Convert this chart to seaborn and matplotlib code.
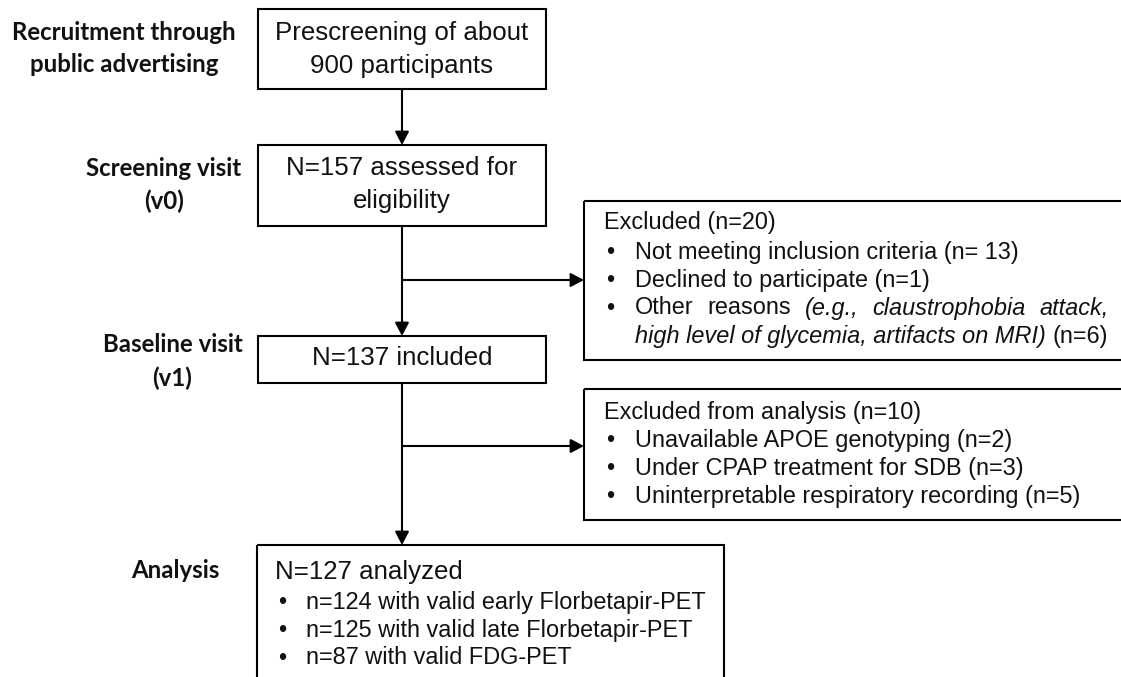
import matplotlib
matplotlib.use("Agg")
import matplotlib.pyplot as plt
from matplotlib.patches import Rectangle, FancyArrowPatch
import seaborn as sns

# ---------------- data (texts of the flow chart) ----------------
stage_labels = [["Recruitment through", "public advertising"],
                ["Screening visit", "(v0)"],
                ["Baseline visit", "(v1)"],
                ["Analysis"]]
main_boxes = [["Prescreening of about", "900 participants"],
              ["N=157 assessed for", "eligibility"],
              ["N=137 included"]]
analysis_title = "N=127 analyzed"
analysis_items = ["n=124 with valid early Florbetapir-PET",
                  "n=125 with valid late Florbetapir-PET",
                  "n=87 with valid FDG-PET"]
excl1_title = "Excluded (n=20)"
excl1_items = ["Not meeting inclusion criteria (n= 13)",
               "Declined to participate (n=1)"]
excl1_other_words = ["Other", "reasons", "(e.g.,", "claustrophobia", "attack,"]
excl1_other_styles = ["normal", "normal", "italic", "italic", "italic"]
excl1_other_line2 = ["high level of glycemia, artifacts on MRI)", "(n=6)"]
excl2_title = "Excluded from analysis (n=10)"
excl2_items = ["Unavailable APOE genotyping (n=2)",
               "Under CPAP treatment for SDB (n=3)",
               "Uninterpretable respiratory recording (n=5)"]

# ---------------- style ----------------
sns.set_theme(style="white")
plt.rcParams["font.family"] = ["Liberation Sans", "DejaVu Sans"]

W, H = 1121, 677
fig = plt.figure(figsize=(W / 100, H / 100), dpi=100)
ax = fig.add_axes([0, 0, 1, 1])
ax.set_xlim(0, W)
ax.set_ylim(H, 0)
ax.axis("off")
r = fig.canvas.get_renderer()

LW = 1.5
BIG = 18.6
SMALL = 16.9
LAB = 17.3
LABFONT = ["Lato", "DejaVu Sans"]
TXT = "#111111"


def box(x0, y0, x1, y1):
    ax.add_patch(Rectangle((x0, y0), x1 - x0, y1 - y0, fill=False,
                           edgecolor="black", lw=LW, zorder=2))


def arrow(x0, y0, x1, y1):
    ax.add_patch(FancyArrowPatch((x0, y0), (x1, y1),
                                 arrowstyle="-|>,head_length=0.8,head_width=0.42",
                                 mutation_scale=10, color="black", lw=LW,
                                 shrinkA=0, shrinkB=0, zorder=3))


# ---------------- boxes ----------------
CX = 402
box(258, 9, 546, 89)
box(258, 145, 546, 226)
box(258, 336, 546, 383)
box(257, 545, 724, 700)
box(584, 201, 1140, 360)
box(584, 389, 1140, 520)

# connectors
arrow(CX, 89, CX, 145)
arrow(CX, 226, CX, 336)
arrow(CX, 280, 584, 280)
arrow(CX, 383, CX, 545)
arrow(CX, 446, 584, 446)

# ---------------- stage labels ----------------
label_pos = [[(124, 33), (124, 65)], [(164, 169), (164, 201)],
             [(173, 344), (172, 378)], [(175, 571)]]
for lines, pos in zip(stage_labels, label_pos):
    for t, (x, y) in zip(lines, pos):
        ax.text(x, y, t, ha="center", va="center", fontsize=LAB,
                fontweight="bold", family=LABFONT, color=TXT)

# ---------------- main box texts ----------------
main_y = [[33, 66], [168, 201], [358]]
for lines, ys in zip(main_boxes, main_y):
    for t, y in zip(lines, ys):
        ax.text(CX, y, t, ha="center", va="center", fontsize=BIG, color=TXT)

ax.text(275, 572, analysis_title, ha="left", va="center", fontsize=BIG, color=TXT)
for t, y in zip(analysis_items, [602, 630, 658]):
    ax.text(278, y, "•", ha="left", va="center", fontsize=SMALL, color=TXT)
    ax.text(306, y, t, ha="left", va="center", fontsize=SMALL, color=TXT)

# ---------------- exclusion box 1 ----------------
ax.text(604, 223, excl1_title, ha="left", va="center", fontsize=SMALL, color=TXT)
for t, y in zip(excl1_items, [252, 280]):
    ax.text(606, y, "•", ha="left", va="center", fontsize=SMALL, color=TXT)
    ax.text(635, y, t, ha="left", va="center", fontsize=SMALL, color=TXT)
ax.text(606, 308, "•", ha="left", va="center", fontsize=SMALL, color=TXT)
# justified line
ts = [ax.text(0, 308, w, ha="left", va="center", fontsize=SMALL, style=s, color=TXT)
      for w, s in zip(excl1_other_words, excl1_other_styles)]
widths = [t.get_window_extent(r).width for t in ts]
gap = (1109 - 635 - sum(widths)) / (len(ts) - 1)
x = 635
for t, w in zip(ts, widths):
    t.set_x(x)
    x += w + gap
it = ax.text(635, 337, excl1_other_line2[0], ha="left", va="center", fontsize=SMALL,
             style="italic", color=TXT)
wi = it.get_window_extent(r).width
ax.text(635 + wi + 6.5, 337, excl1_other_line2[1], ha="left", va="center",
        fontsize=SMALL, color=TXT)

# ---------------- exclusion box 2 ----------------
ax.text(604, 412, excl2_title, ha="left", va="center", fontsize=SMALL, color=TXT)
for t, y in zip(excl2_items, [440, 468, 496]):
    ax.text(606, y, "•", ha="left", va="center", fontsize=SMALL, color=TXT)
    ax.text(635, y, t, ha="left", va="center", fontsize=SMALL, color=TXT)

fig.savefig("out.png", dpi=100)
